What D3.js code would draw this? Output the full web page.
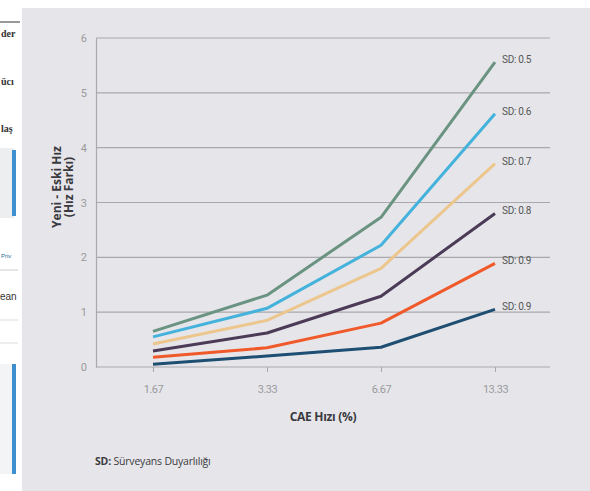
<!DOCTYPE html>
<html>
<head>
<meta charset="utf-8">
<script src="https://cdn.jsdelivr.net/npm/d3@7"></script>
<style>
  html, body { margin: 0; padding: 0; background: #ffffff; }
  svg { display: block; }
</style>
</head>
<body>
<svg id="chart" width="590" height="491"></svg>
<script>
// CAE rate categories (x axis)
const categories = ["1.67", "3.33", "6.67", "13.33"];
// y axis ticks
const yTicks = [0, 1, 2, 3, 4, 5, 6];
// series labels and colours
const seriesLabels = ["SD: 0.5", "SD: 0.6", "SD: 0.7", "SD: 0.8", "SD: 0.9", "SD: 0.9"];
const seriesColors = ["#6b9382", "#45b2dc", "#ecc68d", "#4b3b57", "#f05a2b", "#1e4f72"];
// series values (Yeni - Eski Hız)
const sd05 = [0.65, 1.31, 2.73, 5.56];
const sd06 = [0.55, 1.07, 2.22, 4.62];
const sd07 = [0.42, 0.85, 1.80, 3.71];
const sd08 = [0.29, 0.62, 1.29, 2.80];
const sd09a = [0.18, 0.35, 0.80, 1.89];
const sd09b = [0.05, 0.20, 0.36, 1.05];
const seriesValues = [sd05, sd06, sd07, sd08, sd09a, sd09b];

const svg = d3.select("#chart");

// page fragment strip on the left
const strip = svg.append("g");
strip.append("rect").attr("x", 0).attr("y", 0).attr("width", 21).attr("height", 491).attr("fill", "#ffffff");
strip.append("line").attr("x1", 0).attr("x2", 20).attr("y1", 22).attr("y2", 22).attr("stroke", "#555").attr("stroke-width", 1.2);
[["der", 37], ["ücı", 85], ["laş", 132]].forEach(([t, yy]) => {
  strip.append("text").attr("x", 1).attr("y", yy).text(t)
    .attr("font-family", "Liberation Serif").attr("font-size", 10).attr("font-weight", "bold").attr("fill", "#333");
});
strip.append("rect").attr("x", 0).attr("y", 148).attr("width", 14).attr("height", 70).attr("fill", "#eceef0");
strip.append("rect").attr("x", 12).attr("y", 150).attr("width", 4).attr("height", 66).attr("fill", "#3d8fd0");
strip.append("text").attr("x", 1).attr("y", 258).text("Priv")
  .attr("font-family", "Liberation Sans").attr("font-size", 6).attr("fill", "#2a6f9a");
strip.append("line").attr("x1", 0).attr("x2", 18).attr("y1", 270).attr("y2", 270).attr("stroke", "#ccc");
strip.append("text").attr("x", 0).attr("y", 300).text("ean")
  .attr("font-family", "Liberation Sans").attr("font-size", 10).attr("fill", "#333");
strip.append("line").attr("x1", 0).attr("x2", 18).attr("y1", 320).attr("y2", 320).attr("stroke", "#ddd");
strip.append("line").attr("x1", 0).attr("x2", 18).attr("y1", 343).attr("y2", 343).attr("stroke", "#ddd");
strip.append("rect").attr("x", 0).attr("y", 364).attr("width", 14).attr("height", 110).attr("fill", "#f3f4f6");
strip.append("rect").attr("x", 12).attr("y", 364).attr("width", 4).attr("height", 110).attr("fill", "#3d8fd0");

// chart panel
svg.append("rect").attr("x", 22).attr("y", 8).attr("width", 568).attr("height", 483).attr("fill", "#e6e6ea");

const plotLeft = 96, plotRight = 552, plotTop = 38, plotBottom = 367;

const x = d3.scalePoint().domain(categories).range([plotLeft, plotRight]).padding(0.5);
const y = d3.scaleLinear().domain([0, 6]).range([plotBottom, plotTop]);

// horizontal gridlines
svg.append("g").selectAll("line").data(yTicks).join("line")
  .attr("x1", plotLeft).attr("x2", 550)
  .attr("y1", d => y(d)).attr("y2", d => y(d))
  .attr("stroke", "#a9a9ad").attr("stroke-width", 1.2);

// y axis
const yAxis = svg.append("g").attr("transform", `translate(${plotLeft},0)`)
  .call(d3.axisLeft(y).tickValues(yTicks).tickFormat(d3.format("d")).tickSize(0).tickPadding(9));
yAxis.select(".domain").attr("stroke", "#a9a9ad").attr("stroke-width", 1.2);
yAxis.selectAll("text").attr("font-family", "Roboto").attr("font-size", 11).attr("fill", "#9a9a9e");

// x axis
const xAxis = svg.append("g").attr("transform", `translate(0,${plotBottom})`)
  .call(d3.axisBottom(x).tickSize(5).tickPadding(13));
xAxis.select(".domain").remove();
xAxis.selectAll("line").attr("stroke", "#a9a9ad");
xAxis.selectAll("text").attr("font-family", "Roboto").attr("font-size", 11).attr("fill", "#9a9a9e")
  .attr("letter-spacing", "-0.5px");

// series lines
const line = d3.line().x((d, i) => x(categories[i])).y(d => y(d));
svg.append("g").selectAll("path").data(seriesValues).join("path")
  .attr("d", d => line(d))
  .attr("fill", "none")
  .attr("stroke", (d, i) => seriesColors[i])
  .attr("stroke-width", 3)
  .attr("stroke-linejoin", "round");

// end labels
svg.append("g").selectAll("text").data(seriesValues).join("text")
  .attr("x", x(categories[3]) + 7)
  .attr("y", d => y(d[3]) + 1)
  .text((d, i) => seriesLabels[i])
  .attr("font-family", "Roboto").attr("font-size", 10).attr("fill", "#555")
  .attr("letter-spacing", "-0.3px");

// axis titles
const yTitle = svg.append("text")
  .attr("transform", "translate(61,187) rotate(-90)")
  .attr("text-anchor", "middle")
  .attr("font-family", "Open Sans").attr("font-weight", "bold").attr("font-size", 12).attr("fill", "#3a3a3e");
yTitle.append("tspan").attr("x", 0).attr("dy", 0).text("Yeni - Eski Hız");
yTitle.append("tspan").attr("x", 0).attr("dy", 12).text("(Hız Farkı)");

svg.append("text").attr("x", 323).attr("y", 421).attr("text-anchor", "middle")
  .attr("font-family", "Open Sans").attr("font-weight", "bold").attr("font-size", 12).attr("fill", "#3a3a3e")
  .attr("letter-spacing", "-0.3px")
  .text("CAE Hızı (%)");

// footnote
const note = svg.append("text").attr("x", 95).attr("y", 465)
  .attr("font-family", "Open Sans").attr("font-size", 10.5).attr("fill", "#3a3a3e").attr("letter-spacing", "-0.2px");
note.append("tspan").attr("font-weight", "bold").text("SD:");
note.append("tspan").text(" Sürveyans Duyarlılığı");
</script>
</body>
</html>
